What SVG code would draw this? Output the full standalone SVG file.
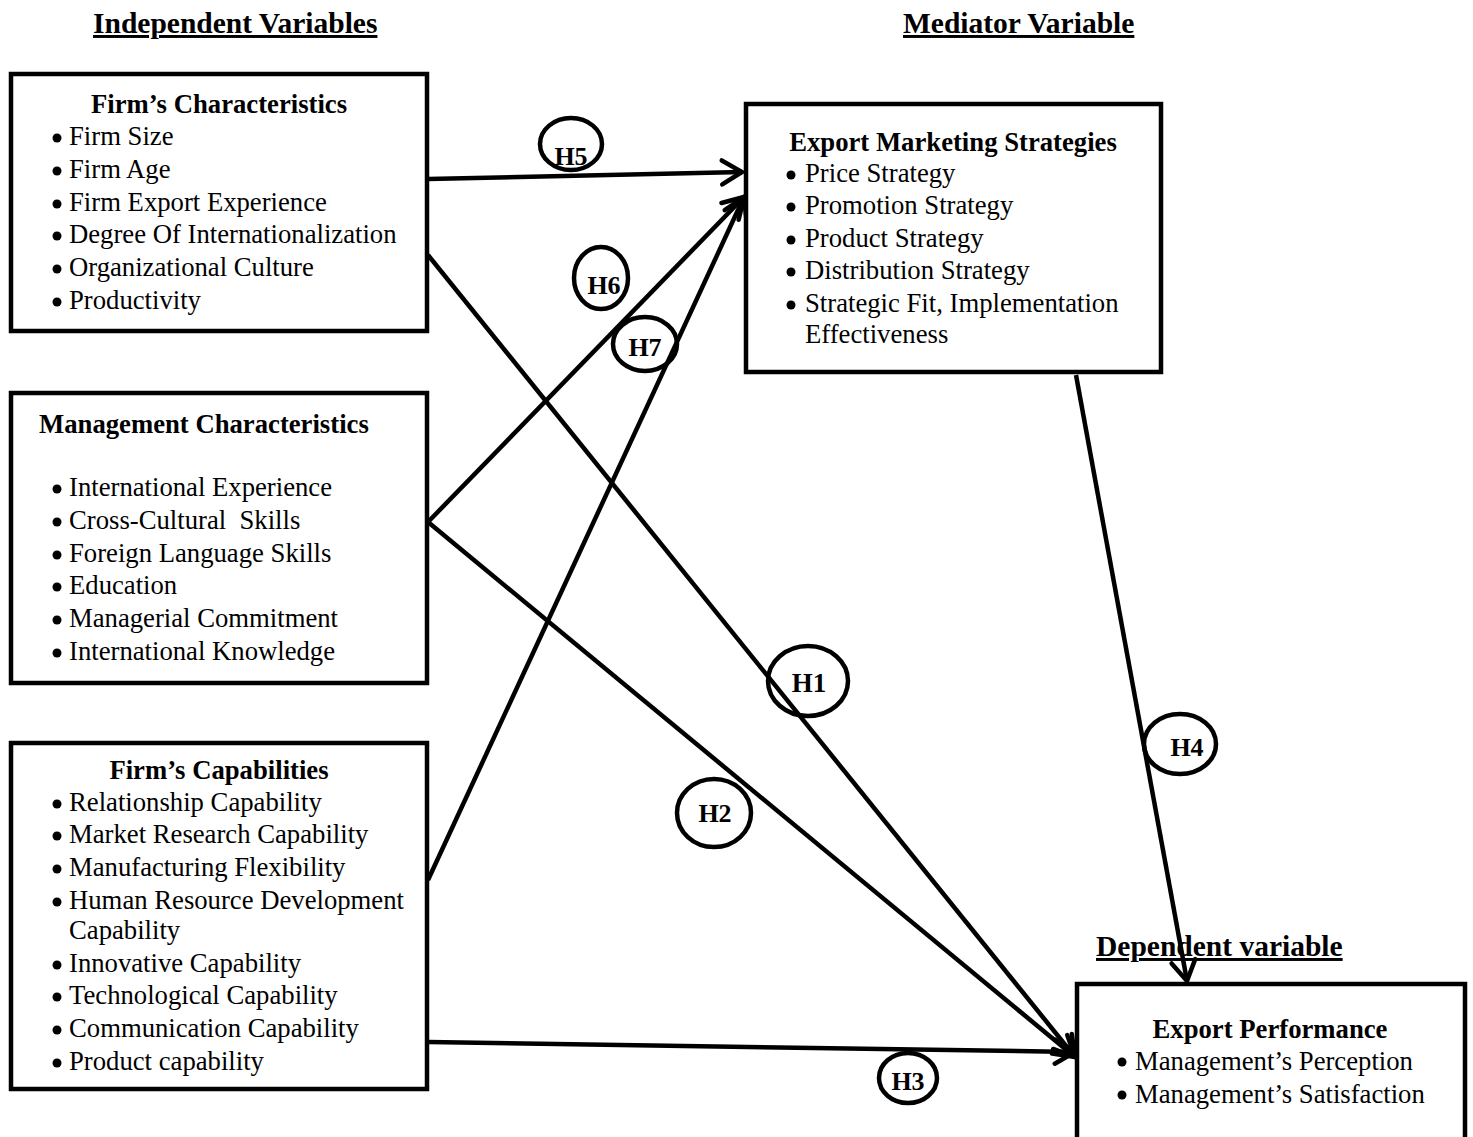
<svg xmlns="http://www.w3.org/2000/svg" width="1473" height="1137" viewBox="0 0 1473 1137">
<defs>
<style>
text{font-family:"Liberation Serif","Times New Roman",serif;font-size:26.7px;fill:#000}
.b{font-weight:bold}
.hd{font-weight:bold;text-decoration:underline;font-size:29.5px}
.box{fill:#fff;stroke:#000;stroke-width:4.5}
.c{stroke:#000;stroke-width:4.5;fill:none}
.e{fill:none;stroke:#000;stroke-width:4.5}
.h{font-weight:bold;text-anchor:middle;font-size:26px}
.m{text-anchor:middle}
</style>
<marker id="ar" markerUnits="userSpaceOnUse" markerWidth="30" markerHeight="30" viewBox="-22 -15 26 30" refX="0" refY="0" orient="auto">
<path d="M-20,-12 L0,0 L-20,12" fill="none" stroke="#000" stroke-width="4.5" stroke-linecap="round" stroke-linejoin="miter"/>
</marker>
</defs>
<rect width="1473" height="1137" fill="#fff"/>

<text class="hd" x="93" y="33">Independent Variables</text>
<text class="hd" x="903" y="33">Mediator Variable</text>
<text class="hd" x="1096" y="956">Dependent variable</text>

<g id="connectors">
<line class="c" x1="428" y1="179" x2="742" y2="172" marker-end="url(#ar)"/>
<line class="c" x1="428" y1="522" x2="744" y2="197" marker-end="url(#ar)"/>
<line class="c" x1="428" y1="880" x2="744" y2="197" marker-end="url(#ar)"/>
<line class="c" x1="428" y1="255" x2="1075" y2="1057" marker-end="url(#ar)"/>
<line class="c" x1="428" y1="522" x2="1075" y2="1057" marker-end="url(#ar)"/>
<line class="c" x1="428" y1="1042" x2="1075" y2="1052" marker-end="url(#ar)"/>
<line class="c" x1="1076" y1="375" x2="1187" y2="981" marker-end="url(#ar)"/>
</g>

<g id="firm-characteristics">
<rect class="box" x="11" y="74" width="416" height="257"/>
<text class="b m" x="219" y="113">Firm’s Characteristics</text>
<circle cx="57" cy="138" r="4.5"/><text x="69" y="145">Firm Size</text>
<circle cx="57" cy="171" r="4.5"/><text x="69" y="178">Firm Age</text>
<circle cx="57" cy="204" r="4.5"/><text x="69" y="211">Firm Export Experience</text>
<circle cx="57" cy="236" r="4.5"/><text x="69" y="243">Degree Of Internationalization</text>
<circle cx="57" cy="269" r="4.5"/><text x="69" y="276">Organizational Culture</text>
<circle cx="57" cy="302" r="4.5"/><text x="69" y="309">Productivity</text>
</g>

<g id="management-characteristics">
<rect class="box" x="11" y="393" width="416" height="290"/>
<text class="b" x="39" y="433">Management Characteristics</text>
<circle cx="57" cy="489" r="4.5"/><text x="69" y="496">International Experience</text>
<circle cx="57" cy="522" r="4.5"/><text x="69" y="529" xml:space="preserve">Cross-Cultural  Skills</text>
<circle cx="57" cy="555" r="4.5"/><text x="69" y="562">Foreign Language Skills</text>
<circle cx="57" cy="587" r="4.5"/><text x="69" y="594">Education</text>
<circle cx="57" cy="620" r="4.5"/><text x="69" y="627">Managerial Commitment</text>
<circle cx="57" cy="653" r="4.5"/><text x="69" y="660">International Knowledge</text>
</g>

<g id="firm-capabilities">
<rect class="box" x="11" y="743" width="416" height="346"/>
<text class="b m" x="219" y="779">Firm’s Capabilities</text>
<circle cx="57" cy="804" r="4.5"/><text x="69" y="811">Relationship Capability</text>
<circle cx="57" cy="836" r="4.5"/><text x="69" y="843">Market Research Capability</text>
<circle cx="57" cy="869" r="4.5"/><text x="69" y="876">Manufacturing Flexibility</text>
<circle cx="57" cy="902" r="4.5"/><text x="69" y="909">Human Resource Development</text>
<text x="69" y="939">Capability</text>
<circle cx="57" cy="965" r="4.5"/><text x="69" y="972">Innovative Capability</text>
<circle cx="57" cy="997" r="4.5"/><text x="69" y="1004">Technological Capability</text>
<circle cx="57" cy="1030" r="4.5"/><text x="69" y="1037">Communication Capability</text>
<circle cx="57" cy="1063" r="4.5"/><text x="69" y="1070">Product capability</text>
</g>

<g id="export-marketing-strategies">
<rect class="box" x="746" y="104" width="415" height="268"/>
<text class="b m" x="953" y="151">Export Marketing Strategies</text>
<circle cx="791" cy="175" r="4.5"/><text x="805" y="182">Price Strategy</text>
<circle cx="791" cy="207" r="4.5"/><text x="805" y="214">Promotion Strategy</text>
<circle cx="791" cy="240" r="4.5"/><text x="805" y="247">Product Strategy</text>
<circle cx="791" cy="272" r="4.5"/><text x="805" y="279">Distribution Strategy</text>
<circle cx="791" cy="305" r="4.5"/><text x="805" y="312">Strategic Fit, Implementation</text>
<text x="805" y="343">Effectiveness</text>
</g>

<g id="export-performance">
<rect class="box" x="1077" y="984" width="388" height="160"/>
<text class="b m" x="1270" y="1038">Export Performance</text>
<circle cx="1122" cy="1062" r="4.5"/><text x="1135" y="1070">Management’s Perception</text>
<circle cx="1122" cy="1095" r="4.5"/><text x="1135" y="1103">Management’s Satisfaction</text>
</g>

<g id="h5"><ellipse class="e" cx="571" cy="144" rx="31" ry="26"/><text class="h" x="571" y="165">H5</text></g>
<g id="h6"><ellipse class="e" cx="601" cy="278" rx="27" ry="31"/><text class="h" x="604" y="294">H6</text></g>
<g id="h7"><ellipse class="e" cx="645" cy="344" rx="32" ry="27"/><text class="h" x="645" y="356">H7</text></g>
<g id="h1"><ellipse class="e" cx="808" cy="681" rx="40" ry="35"/><text class="h" x="809" y="692" style="font-size:27px">H1</text></g>
<g id="h2"><ellipse class="e" cx="714" cy="813" rx="37" ry="34"/><text class="h" x="715" y="822">H2</text></g>
<g id="h3"><ellipse class="e" cx="908" cy="1078" rx="29" ry="25"/><text class="h" x="908" y="1090">H3</text></g>
<g id="h4"><ellipse class="e" cx="1180" cy="744" rx="36" ry="30"/><text class="h" x="1187" y="756">H4</text></g>
</svg>
